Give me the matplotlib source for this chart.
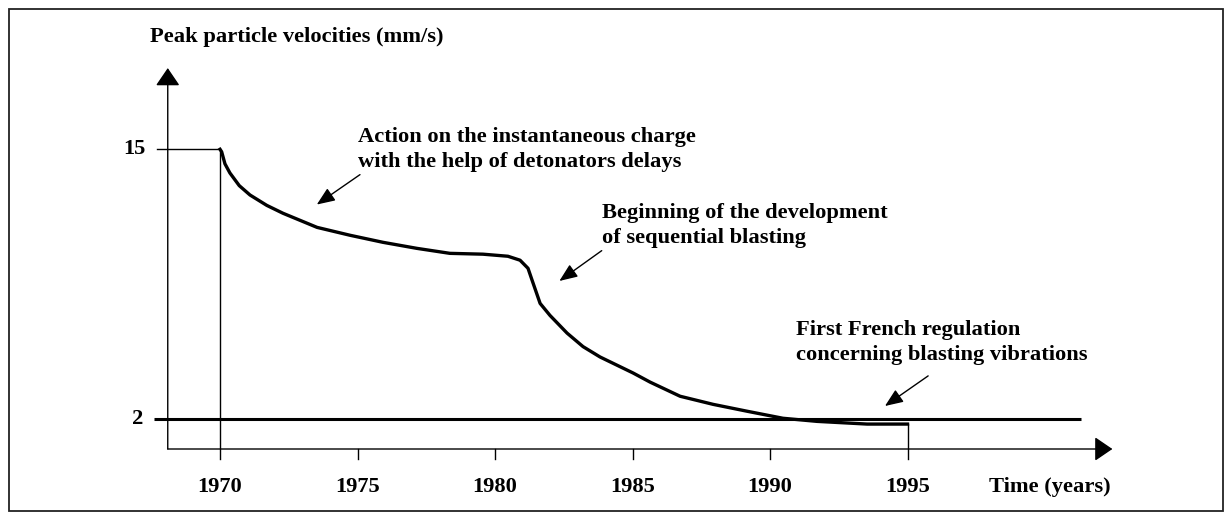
import matplotlib
matplotlib.use("Agg")
import matplotlib.pyplot as plt
from matplotlib.patches import Rectangle

# --- data ---
years = [1970, 1970.06, 1970.18, 1970.36, 1970.7, 1971.09, 1971.7, 1972.29,
         1973.53, 1974.73, 1975.93, 1977.16, 1978.36, 1979.56, 1980.47,
         1980.91, 1981.20, 1981.35, 1981.64, 1982.0, 1982.62, 1983.2, 1983.82,
         1985.02, 1985.64, 1986.73, 1987.93, 1989.16, 1990.47, 1991.71,
         1993.53, 1994.84, 1995]
ppv = [15, 14.88, 14.3, 13.86, 13.25, 12.80, 12.3, 11.92, 11.24, 10.86, 10.52,
       10.23, 9.99, 9.95, 9.85, 9.66, 9.27, 8.69, 7.58, 7.0, 6.15, 5.5, 5.00,
       4.23, 3.79, 3.11, 2.72, 2.39, 2.05, 1.90, 1.77, 1.77, 1.77]

start_year = 1970
end_year = 1995
start_level = 15
regulation_level = 2
x_ticks = [1970, 1975, 1980, 1985, 1990, 1995]
y_ticks = [15, 2]

ylabel = "Peak particle velocities (mm/s)"
xlabel = "Time (years)"
notes = [
    ["Action on the instantaneous charge", "with the help of detonators delays"],
    ["Beginning of the development", "of sequential blasting"],
    ["First French regulation", "concerning blasting vibrations"],
]
note_xy = [(1975.0, 15.61), (1983.9, 11.93), (1990.95, 6.28)]
arrow_tail = [(1975.09, 13.78), (1983.88, 10.12), (1995.75, 4.09)]
arrow_head = [(1973.52, 12.34), (1982.34, 8.66), (1994.18, 2.64)]

font = {"family": "Liberation Serif", "weight": "bold", "size": 16.2}

fig = plt.figure(figsize=(12.29, 5.13), dpi=100)
ax = fig.add_axes([0, 0, 1, 1])
# 27.5 px per year, 20.77 px per mm/s
ax.set_xlim(1962.0, 2006.69)
ax.set_ylim(2 - (513 - 419.3) / 20.77, 2 + 419.3 / 20.77)
ax.axis("off")

# frame around the figure
fig.patches.append(Rectangle((9 / 1229, 2 / 513), 1214 / 1229, 502 / 513,
                             transform=fig.transFigure, fill=False,
                             edgecolor="#222222", linewidth=1.3))

x0 = 1968.1   # position of the y axis
y0 = 0.57     # position of the x axis
tick_len = 0.5

# axes with arrow heads
axis_arrow = dict(arrowstyle="-|>,head_length=1.1,head_width=0.75",
                  lw=1.0, color="black", shrinkA=0, shrinkB=0)
ax.annotate("", xy=(x0, 18.91), xytext=(x0, y0), arrowprops=axis_arrow)
ax.annotate("", xy=(2002.45, y0), xytext=(x0, y0), arrowprops=axis_arrow)

# x ticks and labels
for yr in x_ticks:
    if yr not in (start_year, end_year):
        ax.plot([yr, yr], [y0, y0 - tick_len], color="black", lw=1.0)
    ax.text(yr, -1.26, str(yr), ha="center", va="center", fontdict=font)
ax.text(2002.4, -1.26, xlabel, ha="right", va="center", fontdict=font)

# y tick labels and axis title
ax.text(1967.3, y_ticks[0], str(y_ticks[0]), ha="right", va="center", fontdict=font)
ax.text(1967.2, y_ticks[1], str(y_ticks[1]), ha="right", va="center", fontdict=font)
ax.text(1967.45, 20.4, ylabel, ha="left", va="center", fontdict=font)

# initial level and its drop line
ax.plot([1967.7, start_year], [start_level, start_level], color="black", lw=1.0)
ax.plot([start_year, start_year], [start_level, y0 - tick_len], color="black", lw=1.0)

# regulation level
ax.plot([1967.6, 2001.3], [regulation_level, regulation_level],
        color="black", lw=2.2, solid_capstyle="butt")

# evolution curve
ax.plot(years, ppv, color="black", lw=2.4, solid_joinstyle="round")
ax.plot([end_year, end_year], [ppv[-1], y0 - tick_len], color="black", lw=1.0)

# annotations
note_arrow = dict(arrowstyle="-|>,head_length=1.1,head_width=0.45",
                  lw=1.0, color="black", shrinkA=0, shrinkB=0)
for lines, (tx, ty), tail, head in zip(notes, note_xy, arrow_tail, arrow_head):
    for i, line in enumerate(lines):
        ax.text(tx, ty - i * 1.2, line, ha="left", va="center", fontdict=font)
    ax.annotate("", xy=head, xytext=tail, arrowprops=note_arrow)

fig.savefig("out.png", dpi=100, facecolor="white")
